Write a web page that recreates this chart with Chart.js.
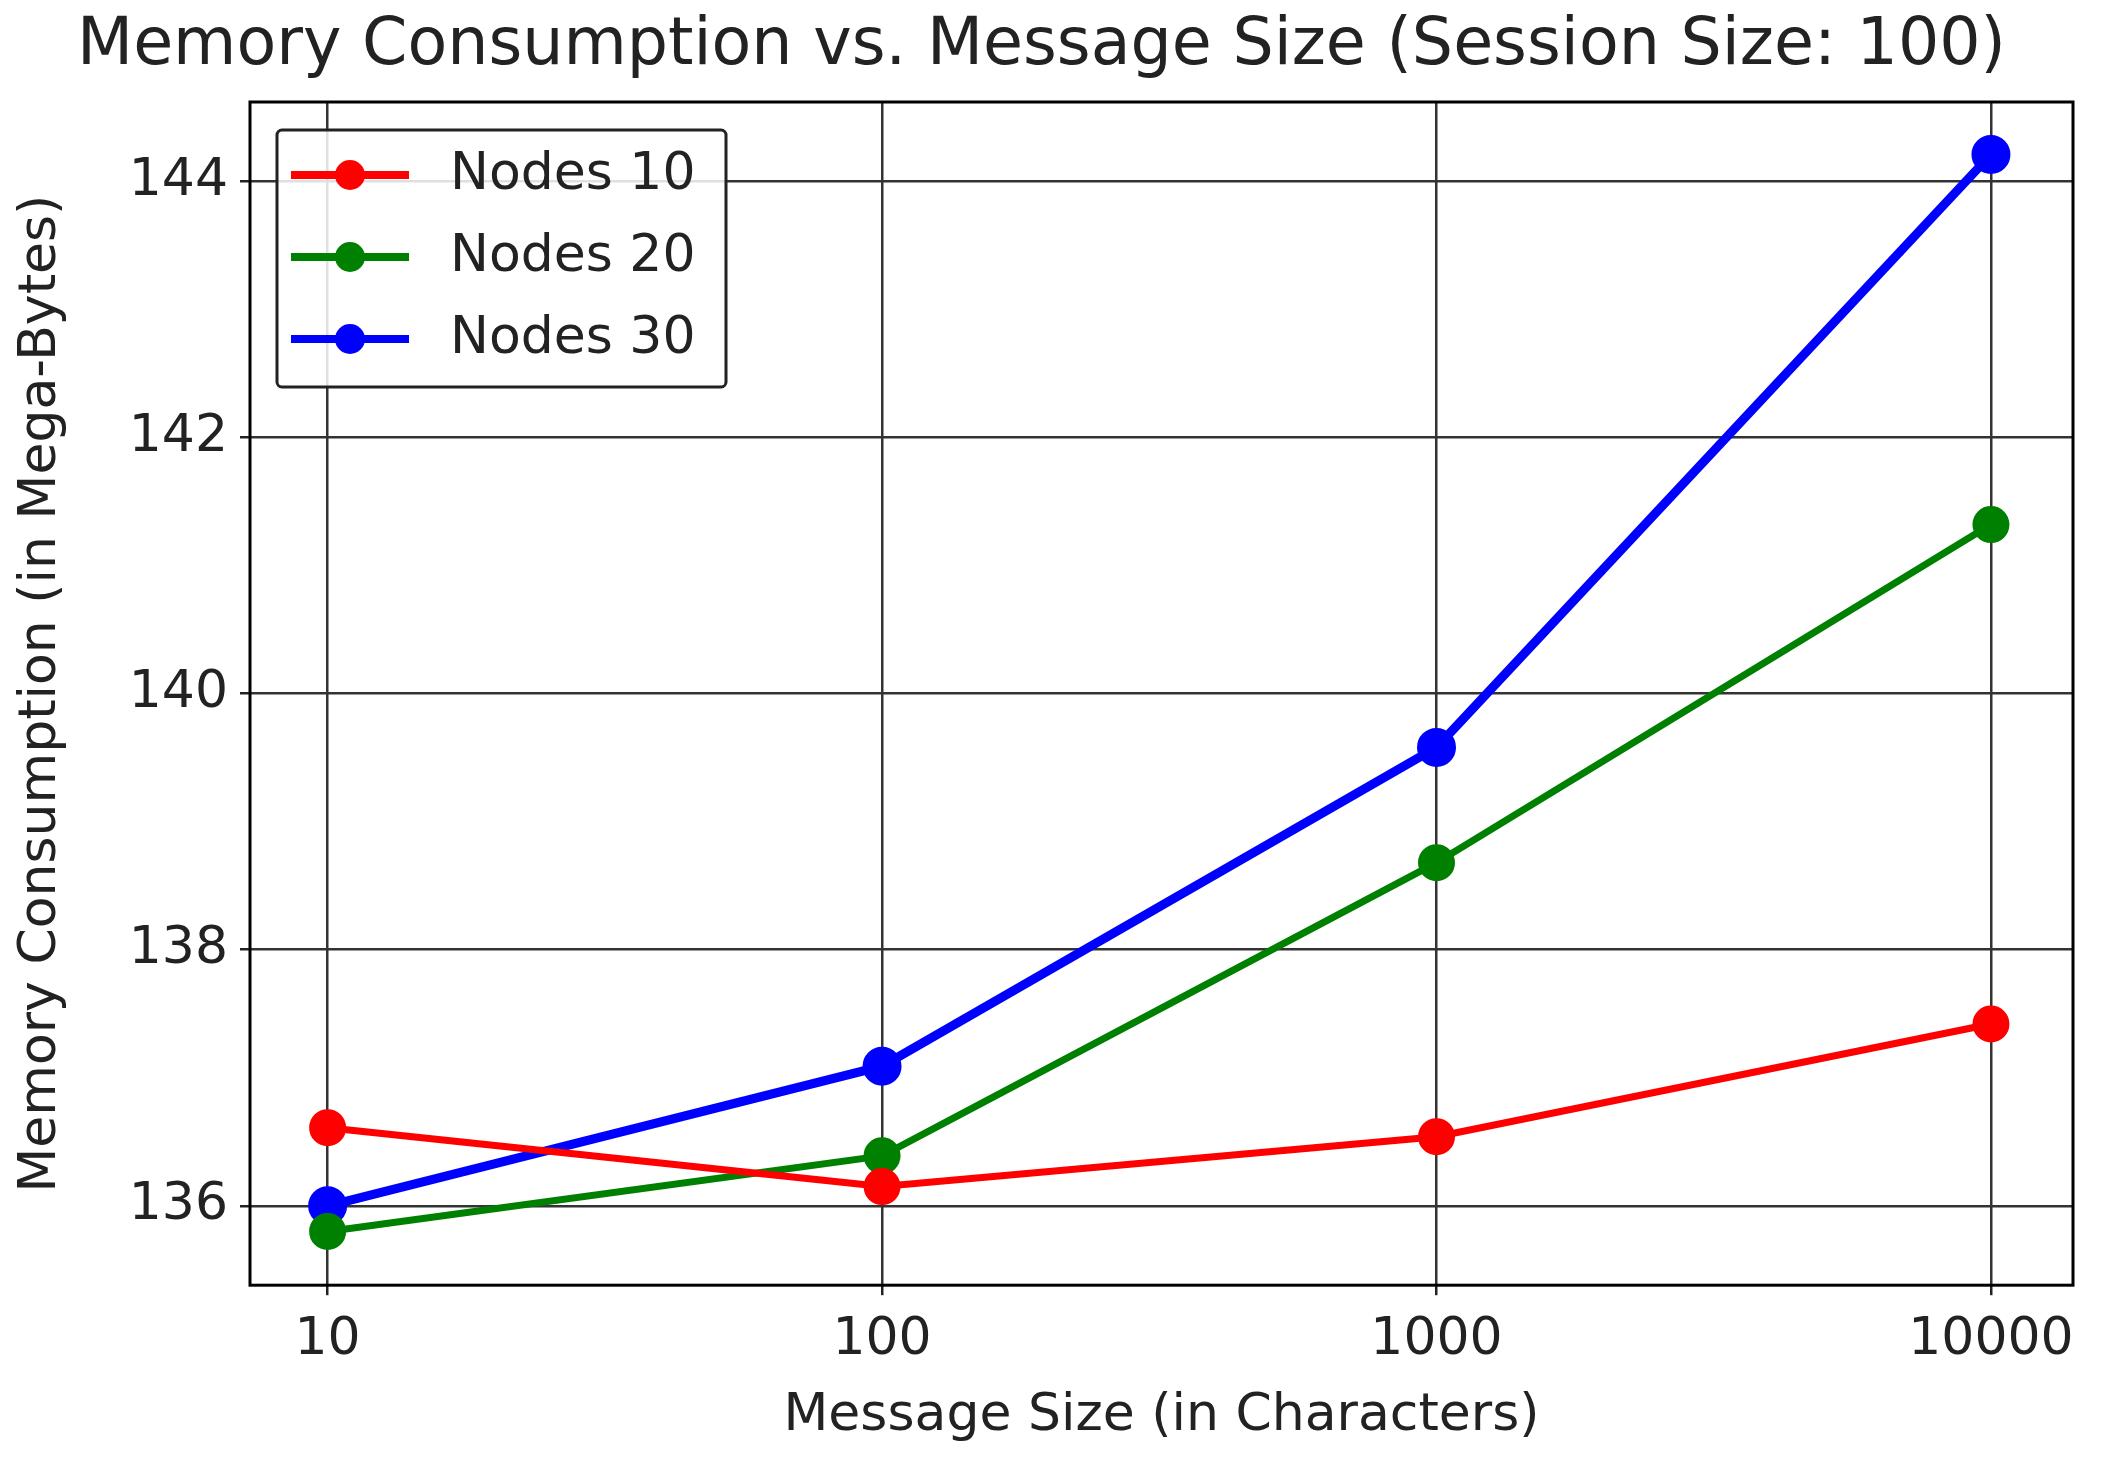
<!DOCTYPE html>
<html>
<head>
<meta charset="utf-8">
<script src="https://cdn.jsdelivr.net/npm/chart.js@4/dist/chart.umd.min.js"></script>
<style>
  html, body { margin: 0; padding: 0; background: #fff; }
  #wrap { width: 2128px; height: 1470px; }
</style>
</head>
<body>
<div id="wrap"><canvas id="chart"></canvas></div>
<script>
const messageSizes = ['10', '100', '1000', '10000'];
const nodes10 = [136.61, 136.15, 136.54, 137.42];
const nodes20 = [135.80, 136.39, 138.68, 141.32];
const nodes30 = [136.00, 137.09, 139.58, 144.21];
const yTicks = [136, 138, 140, 142, 144];
const seriesNames = ['Nodes 10', 'Nodes 20', 'Nodes 30'];
const seriesColors = ['#ff0000', '#008000', '#0000ff'];

const font = 'DejaVu Sans';
const toPoints = (vals) => vals.map((v, i) => ({ x: i, y: v }));

const frameAndLegend = {
  id: 'frameAndLegend',
  afterDraw(chart) {
    const { ctx, chartArea: a } = chart;
    ctx.save();
    ctx.strokeStyle = '#000';
    ctx.lineWidth = 3;
    ctx.strokeRect(a.left, a.top, a.right - a.left, a.bottom - a.top);

    // legend box
    const bx = a.left + 27, by = a.top + 28, bw = 449, bh = 257;
    ctx.fillStyle = 'rgba(255,255,255,0.85)';
    ctx.strokeStyle = '#222';
    ctx.lineWidth = 3;
    ctx.beginPath();
    ctx.roundRect(bx, by, bw, bh, 5);
    ctx.fill();
    ctx.stroke();
    ctx.font = `52px "${font}"`;
    ctx.textBaseline = 'middle';
    seriesNames.forEach((name, i) => {
      const yy = by + 45 + i * 82;
      ctx.strokeStyle = seriesColors[i];
      ctx.fillStyle = seriesColors[i];
      ctx.lineWidth = 8;
      ctx.beginPath();
      ctx.moveTo(bx + 14, yy);
      ctx.lineTo(bx + 132, yy);
      ctx.stroke();
      ctx.beginPath();
      ctx.arc(bx + 73, yy, 15, 0, Math.PI * 2);
      ctx.fill();
      ctx.fillStyle = '#222';
      ctx.fillText(name, bx + 173, yy);
    });
    ctx.restore();
  },
};

new Chart(document.getElementById('chart'), {
  type: 'line',
  data: {
    datasets: [nodes10, nodes20, nodes30].map((vals, i) => ({
      label: seriesNames[i],
      data: toPoints(vals),
      borderColor: seriesColors[i],
      backgroundColor: seriesColors[i],
      borderWidth: i === 2 ? 9 : 7,
      pointRadius: 15,
      pointHoverRadius: 15,
      tension: 0,
    })),
  },
  options: {
    responsive: true,
    maintainAspectRatio: false,
    animation: false,
    layout: { padding: { top: 0, right: 55, left: 10, bottom: 22 } },
    plugins: {
      legend: { display: false },
      tooltip: { enabled: false },
      title: {
        display: true,
        text: 'Memory Consumption vs. Message Size (Session Size: 100)',
        color: '#222',
        font: { family: font, size: 65, weight: 'normal' },
        padding: { top: 8, bottom: 16 },
      },
    },
    scales: {
      x: {
        type: 'linear',
        min: -0.14,
        max: 3.148,
        afterBuildTicks: (s) => { s.ticks = messageSizes.map((_, i) => ({ value: i })); },
        ticks: {
          color: '#222',
          font: { family: font, size: 52 },
          padding: 14,
          callback: (v) => messageSizes[v],
        },
        grid: { color: '#333', lineWidth: 2.5, drawTicks: true, tickLength: 10, tickColor: '#222' },
        border: { display: false },
        title: {
          display: true,
          text: 'Message Size (in Characters)',
          color: '#222',
          font: { family: font, size: 52 },
          padding: { top: 0, bottom: 0 },
        },
      },
      y: {
        min: 135.38,
        max: 144.62,
        afterBuildTicks: (s) => { s.ticks = yTicks.map((v) => ({ value: v })); },
        afterFit: (s) => { s.width = 240; },
        ticks: {
          color: '#222',
          font: { family: font, size: 52 },
          padding: 12,
        },
        grid: { color: '#333', lineWidth: 2.5, drawTicks: true, tickLength: 10, tickColor: '#222' },
        border: { display: false },
        title: {
          display: true,
          text: 'Memory Consumption (in Mega-Bytes)',
          color: '#222',
          font: { family: font, size: 52 },
          padding: { top: 0, bottom: 0 },
        },
      },
    },
  },
  plugins: [frameAndLegend],
});
</script>
</body>
</html>
